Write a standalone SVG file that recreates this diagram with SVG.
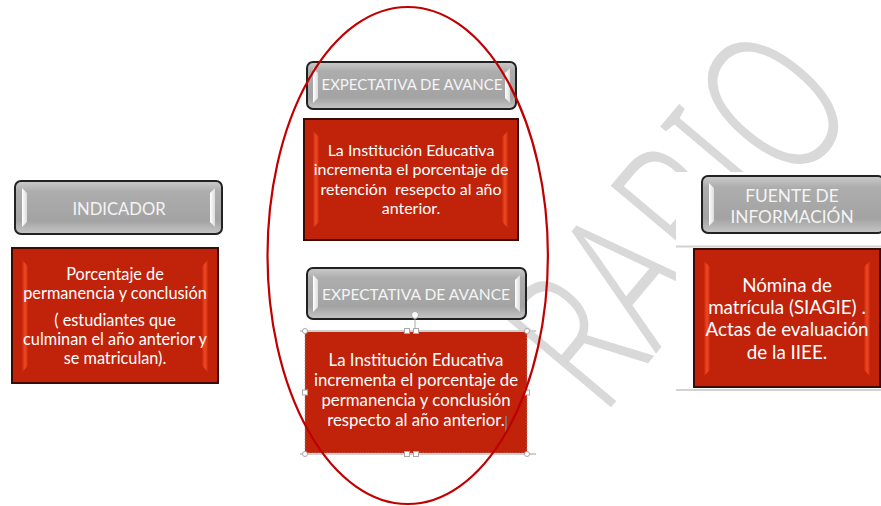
<svg xmlns="http://www.w3.org/2000/svg" width="881" height="506" viewBox="0 0 881 506">
<defs>
<style>
.hdr{fill:url(#gGray);stroke:#222;stroke-width:2}
.bev{fill:url(#gBev)}
.body{fill:#c0220a;stroke:#3b0c04;stroke-width:2}
.strip{fill:url(#gStrip)}
.ht{font-family:Lato,"Liberation Sans",sans-serif;fill:#f4f4f4;text-anchor:middle}
.bt{font-family:Lato,"Liberation Sans",sans-serif;fill:#ffffff;text-anchor:middle}
.wm{font-family:"Noto Sans",sans-serif;font-weight:300;fill:#d9d9d9}
.sel{stroke:#cfcfcf;stroke-width:2;fill:none}
.hnd{fill:#ffffff;stroke:#a8a8a8;stroke-width:1}
</style>
<linearGradient id="gGray" x1="0" y1="0" x2="0" y2="1">
<stop offset="0" stop-color="#cbcbcb"/><stop offset="0.2" stop-color="#adadad"/><stop offset="0.75" stop-color="#a3a3a3"/><stop offset="1" stop-color="#c6c6c6"/>
</linearGradient>
<linearGradient id="gBev" x1="0" y1="0" x2="1" y2="0"><stop offset="0" stop-color="#ffffff"/><stop offset="1" stop-color="#dcdcdc"/></linearGradient>
<linearGradient id="gStrip" x1="0" y1="0" x2="1" y2="0"><stop offset="0" stop-color="#c8280c"/><stop offset="0.5" stop-color="#ef4a22"/><stop offset="1" stop-color="#c8280c"/></linearGradient>
<clipPath id="wmClip"><path clip-rule="evenodd" d="M0 0 H881 V506 H0 Z M676 172 V392 H881 V172 Z"/></clipPath>
</defs>
<rect width="881" height="506" fill="#ffffff"/>
<g id="watermark" clip-path="url(#wmClip)">
<text class="wm" font-size="200" textLength="405" lengthAdjust="spacingAndGlyphs" transform="translate(602,418) rotate(-50)">RARIO</text>
</g>
<g id="connectors"></g>
<g id="indicador-header">
<rect class="hdr" x="15" y="181" width="207" height="53" rx="6"/>
<path class="bev" d="M22 188 L27 193 L27 222 L22 227 Z"/>
<path class="bev" d="M215 188 L210 193 L210 222 L215 227 Z"/>
<text class="ht" x="119" y="214.5" font-size="16.6">INDICADOR</text>
</g>
<g id="indicador-body">
<rect class="body" x="12" y="248" width="206" height="135"/>
<path class="strip" d="M22 260 L28 266 L28 366 L22 372 Z"/>
<path class="strip" d="M208 260 L202 266 L202 366 L208 372 Z"/>
<text class="bt" font-size="16.3"><tspan x="115" y="279.5">Porcentaje de</tspan><tspan x="115" y="298.5">permanencia y conclusión</tspan><tspan x="115" y="325.5">( estudiantes que</tspan><tspan x="115" y="344.5">culminan el año anterior y</tspan><tspan x="115" y="363.5">se matriculan).</tspan></text>
</g>
<g id="expectativa-header-1">
<rect class="hdr" x="307" y="62" width="209" height="47" rx="6"/>
<path class="bev" d="M313 68 L318 73 L318 98 L313 103 Z"/>
<path class="bev" d="M510 68 L505 73 L505 98 L510 103 Z"/>
<text class="ht" x="412" y="90" font-size="15">EXPECTATIVA DE AVANCE</text>
</g>
<g id="expectativa-body-1">
<rect class="body" x="304" y="119" width="214" height="121"/>
<path class="strip" d="M313 131 L319 137 L319 222 L313 228 Z"/>
<path class="strip" d="M508 131 L502 137 L502 222 L508 228 Z"/>
<text class="bt" font-size="16" xml:space="preserve"><tspan x="411" y="156">La Institución Educativa</tspan><tspan x="411" y="175">incrementa el porcentaje de</tspan><tspan x="411" y="194.5">retención  resepcto al año</tspan><tspan x="411" y="213.5">anterior.</tspan></text>
</g>
<g id="expectativa-header-2">
<rect class="hdr" x="307" y="268" width="219" height="51" rx="6"/>
<path class="bev" d="M313 275 L318 280 L318 307 L313 312 Z"/>
<path class="bev" d="M520 275 L515 280 L515 307 L520 312 Z"/>
<text class="ht" x="416" y="299.5" font-size="15.6">EXPECTATIVA DE AVANCE</text>
</g>
<g id="expectativa-body-2">
<rect x="305" y="331" width="222" height="122" fill="#c0220a" stroke="#9a9a9a" stroke-width="0.8" stroke-dasharray="1.5 1.5"/>
<line class="sel" x1="300" y1="331" x2="536" y2="331"/>
<line class="sel" x1="300" y1="454" x2="536" y2="454"/>
<line x1="415" y1="318" x2="415" y2="331" stroke="#a8a8a8" stroke-width="1"/>
<circle class="hnd" cx="415" cy="315" r="3.5"/>
<circle class="hnd" cx="305" cy="331" r="2.5"/>
<circle class="hnd" cx="527" cy="331" r="2.5"/>
<circle class="hnd" cx="305" cy="454" r="2.5"/>
<circle class="hnd" cx="527" cy="454" r="2.5"/>
<rect class="hnd" x="404.5" y="328.5" width="5" height="5"/>
<rect class="hnd" x="413.5" y="328.5" width="5" height="5"/>
<rect class="hnd" x="404.5" y="451.5" width="5" height="5"/>
<rect class="hnd" x="413.5" y="451.5" width="5" height="5"/>
<rect class="hnd" x="302.5" y="390" width="5" height="5"/>
<rect class="hnd" x="524.5" y="390" width="5" height="5"/>
<text class="bt" font-size="16.8"><tspan x="416" y="366">La Institución Educativa</tspan><tspan x="416" y="386">incrementa el porcentaje de</tspan><tspan x="416" y="405.5">permanencia y conclusión</tspan><tspan x="416" y="425.5">respecto al año anterior.</tspan></text>
<line x1="506" y1="416" x2="506" y2="432" stroke="#4fb3c8" stroke-width="1"/>
</g>
<g id="fuente-header">
<rect class="hdr" x="702" y="176" width="182" height="57" rx="6"/>
<path class="bev" d="M709 183 L714 188 L714 221 L709 226 Z"/>
<text class="ht" font-size="17.3"><tspan x="792" y="201.5">FUENTE DE</tspan><tspan x="792" y="222.5">INFORMACIÓN</tspan></text>
</g>
<g id="fuente-body">
<line x1="676" y1="246.5" x2="881" y2="246.5" stroke="#d2d2d2" stroke-width="2"/>
<line x1="676" y1="390" x2="881" y2="390" stroke="#d2d2d2" stroke-width="2"/>
<rect class="body" x="694" y="249" width="186" height="138"/>
<path class="strip" d="M704 261 L710 267 L710 370 L704 376 Z"/>
<path class="strip" d="M870 261 L864 267 L864 370 L870 376 Z"/>
<text class="bt" font-size="18.8"><tspan x="787" y="291.5">Nómina de</tspan><tspan x="787" y="313.5">matrícula (SIAGIE) .</tspan><tspan x="787" y="336">Actas de evaluación</tspan><tspan x="787" y="358.5">de la IIEE.</tspan></text>
</g>
<g id="highlight">
<ellipse cx="407.7" cy="255.5" rx="140.2" ry="248.5" fill="none" stroke="#c00000" stroke-width="2.2"/>
</g>
</svg>
